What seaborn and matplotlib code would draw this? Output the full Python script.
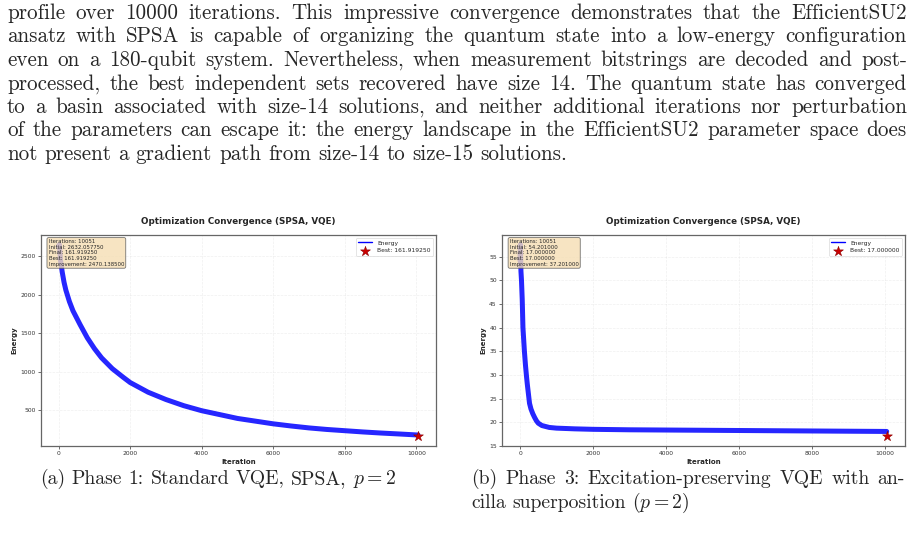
import numpy as np
import pandas as pd
import seaborn as sns
import matplotlib.pyplot as plt

# ---- page text ----
body_lines = [
    "profile over 10000 iterations. This impressive convergence demonstrates that the EfficientSU2",
    "ansatz with SPSA is capable of organizing the quantum state into a low-energy configuration",
    "even on a 180-qubit system. Nevertheless, when measurement bitstrings are decoded and post-",
    "processed, the best independent sets recovered have size 14. The quantum state has converged",
    "to a basin associated with size-14 solutions, and neither additional iterations nor perturbation",
    "of the parameters can escape it: the energy landscape in the EfficientSU2 parameter space does",
    "not present a gradient path from size-14 to size-15 solutions.",
]
caption_a = "(a) Phase 1: Standard VQE, SPSA, $p=2$"
caption_b = ["(b) Phase 3: Excitation-preserving VQE with an-",
             "cilla superposition ($p=2$)"]

# ---- panel (a) ----
iter_a = [0, 20, 50, 100, 150, 200, 300, 400, 500, 600, 800, 1000, 1200, 1500,
          1800, 2000, 2500, 3000, 3500, 4000, 4500, 5000, 5500, 6000, 6500,
          7000, 7500, 8000, 8500, 9000, 9500, 10050]
energy_a = [2632, 2648, 2450, 2290, 2160, 2060, 1910, 1790, 1700, 1610, 1440,
            1300, 1180, 1040, 930, 860, 735, 640, 560, 495, 445, 395, 360, 325,
            297, 272, 252, 236, 220, 206, 194, 180]
best_a = 161.919250
info_a = ["Iterations: 10051", "Initial: 2632.057750", "Final: 161.919250",
          "Best: 161.919250", "Improvement: 2470.138500"]

# ---- panel (b) ----
iter_b = [0, 10, 25, 40, 60, 80, 100, 120, 150, 180, 200, 230, 260, 300, 350,
          400, 450, 500, 600, 800, 1000, 1500, 2000, 3000, 4000, 5000, 6000,
          7000, 8000, 9000, 10050]
energy_b = [54.2, 57.6, 52.0, 50.0, 46.0, 40.0, 37.5, 35.0, 32.0, 29.5, 28.0,
            26.0, 24.0, 22.8, 21.8, 21.0, 20.3, 19.8, 19.3, 18.9, 18.75, 18.6,
            18.5, 18.4, 18.35, 18.3, 18.25, 18.2, 18.15, 18.1, 18.05]
best_b = 17.0
info_b = ["Iterations: 10051", "Initial: 54.201000", "Final: 17.000000",
          "Best: 17.000000", "Improvement: 37.201000"]
best_iter = 10050

sns.set_style("ticks")
plt.rcParams['font.family'] = ['DejaVu Sans']
plt.rcParams['mathtext.fontset'] = 'cm'

W, H = 914, 553
fig = plt.figure(figsize=(W / 100, H / 100), dpi=100)
renderer = fig.canvas.get_renderer()

BODY_PT = 15.2
CAP_PT = 14.2


def put_line(text, x0, x1, base_px, size, justify=True):
    words = text.split(' ')
    objs = [fig.text(0, 0, w, fontsize=size, family='cmr10',
                     ha='left', va='baseline') for w in words]
    widths = [o.get_window_extent(renderer).width for o in objs]
    if justify and len(words) > 1:
        gap = (x1 - x0 - sum(widths)) / (len(words) - 1)
    else:
        gap = 0.333 * size * 100 / 72
    x = x0
    for o, w in zip(objs, widths):
        o.set_position((x / W, 1 - base_px / H))
        x += w + gap


for i, line in enumerate(body_lines):
    put_line(line, 7, 907, 19 + i * 23.5, BODY_PT,
             justify=(i < len(body_lines) - 1))

put_line(caption_a, 40, 395, 484, CAP_PT, justify=False)
put_line(caption_b[0], 471, 905, 484, CAP_PT, justify=True)
put_line(caption_b[1], 471, 905, 508, CAP_PT, justify=False)


def draw_panel(ax, iters, energy, best, info):
    df = pd.DataFrame({'Iteration': iters, 'Energy': energy})
    sns.lineplot(data=df, x='Iteration', y='Energy', ax=ax, color='blue',
                 linewidth=3.6, alpha=0.85, label='Energy')
    sns.scatterplot(x=[best_iter], y=[best], ax=ax, marker='*', s=55,
                    color='#cc0000', edgecolor='darkred', linewidth=0.4,
                    label=f'Best: {best:.6f}', zorder=5)
    ax.set_title('Optimization Convergence (SPSA, VQE)', fontsize=6.3,
                 fontweight='bold', pad=8)
    ax.set_xlabel('Iteration', fontsize=5, fontweight='bold', labelpad=2)
    ax.set_ylabel('Energy', fontsize=5, fontweight='bold', labelpad=2)
    ax.tick_params(labelsize=4.3, length=2, width=0.5, pad=1.5, colors='#333333')
    ax.grid(True, linestyle='--', alpha=0.3, linewidth=0.5)
    for s in ax.spines.values():
        s.set_color('#666666')
        s.set_linewidth(0.9)
    leg = ax.legend(loc='upper right', fontsize=4.3, framealpha=0.9,
                    borderpad=0.4, handlelength=2.4, labelspacing=0.4)
    leg.get_frame().set_linewidth(0.4)
    leg.legend_handles[0].set_linewidth(1.0)
    leg.legend_handles[0].set_alpha(1)
    ax.text(0.02, 0.98, "\n".join(info), transform=ax.transAxes, fontsize=3.9,
            va='top', ha='left', linespacing=1.15,
            bbox=dict(boxstyle='round,pad=0.3', facecolor='wheat', alpha=0.8,
                      edgecolor='#555555', linewidth=0.6))


ax1 = fig.add_axes([40.7 / W, 1 - 446 / H, (436 - 40.7) / W, (446 - 235) / H])
ax2 = fig.add_axes([501.7 / W, 1 - 446 / H, (905 - 501.7) / W, (446 - 235) / H])
draw_panel(ax1, iter_a, energy_a, best_a, info_a)
draw_panel(ax2, iter_b, energy_b, best_b, info_b)
ax1.set_yticks([500, 1000, 1500, 2000, 2500])
ax2.set_yticks([15, 20, 25, 30, 35, 40, 45, 50, 55])
ax1.set_xticks([0, 2000, 4000, 6000, 8000, 10000])
ax2.set_xticks([0, 2000, 4000, 6000, 8000, 10000])

fig.savefig('out.png', dpi=100)
